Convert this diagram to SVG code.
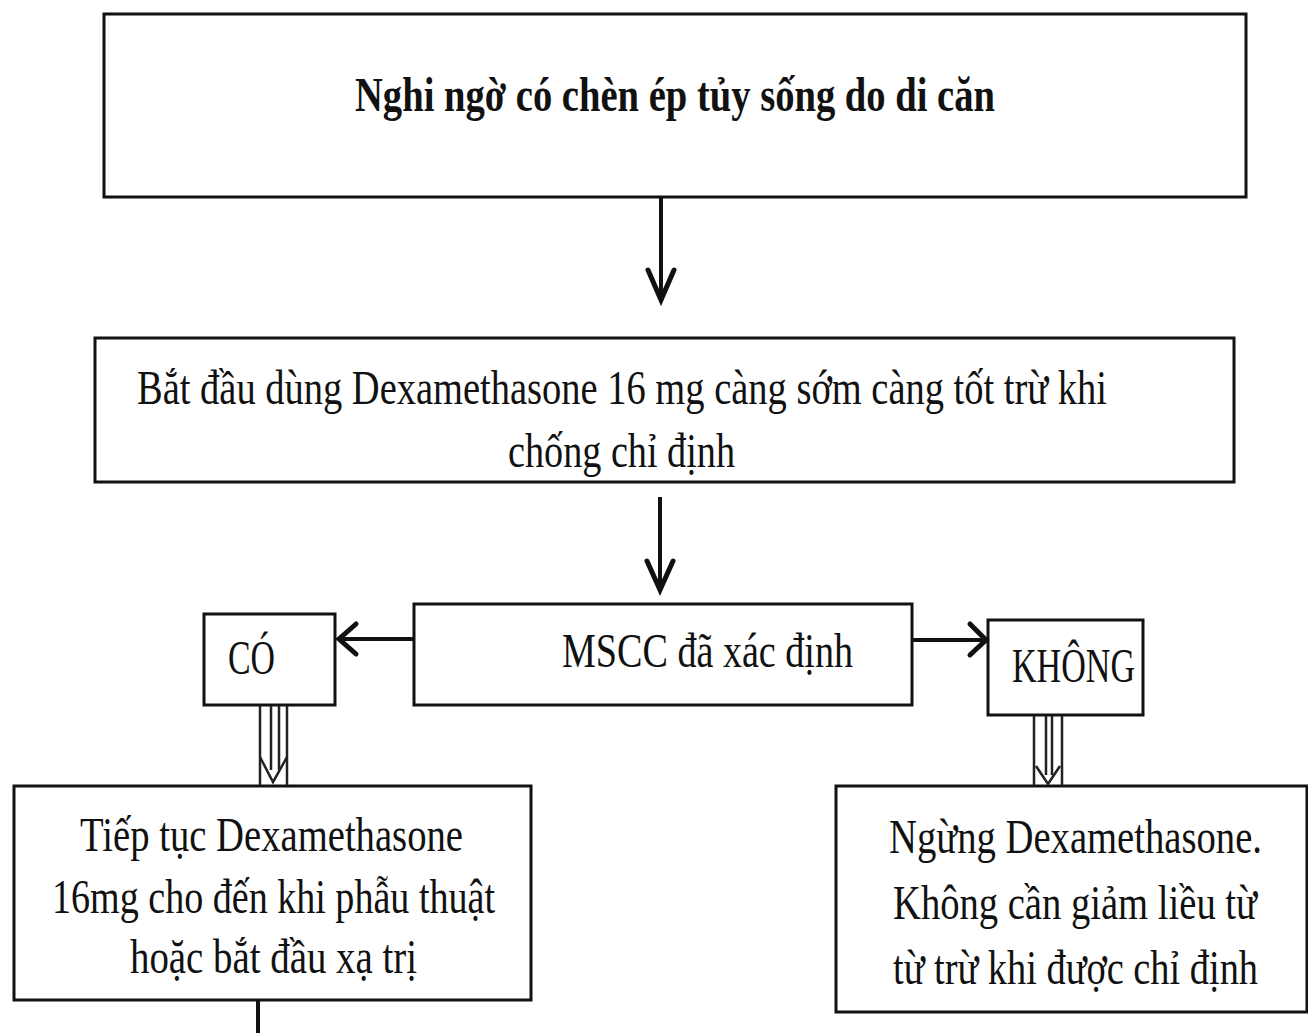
<svg xmlns="http://www.w3.org/2000/svg" width="1308" height="1033" viewBox="0 0 1308 1033">
<style>
.box{fill:#fff;stroke:#111;stroke-width:3}
.t{font-family:"Liberation Serif","Times New Roman",serif;font-size:48px;fill:#111}
.b{font-weight:bold}
.ln{stroke:#111;stroke-width:4;fill:none}
.hd{stroke:#111;stroke-width:5;fill:none;stroke-linecap:round;stroke-linejoin:miter}
.th{stroke:#222;stroke-width:2.5;fill:none}
</style>
<rect width="1308" height="1033" fill="#fff"/>
<g id="n1">
<rect class="box" x="104" y="14" width="1142" height="183"/>
<text class="t b" transform="translate(355,111) scale(0.8,1)" textLength="800" lengthAdjust="spacingAndGlyphs">Nghi ngờ có chèn ép tủy sống do di căn</text>
</g>
<g id="n2">
<rect class="box" x="95" y="338" width="1139" height="144"/>
<text class="t" transform="translate(137,404) scale(0.8,1)" textLength="1212.5" lengthAdjust="spacingAndGlyphs">Bắt đầu dùng Dexamethasone 16 mg càng sớm càng tốt trừ khi</text>
<text class="t" transform="translate(508,467) scale(0.8,1)" textLength="283.75" lengthAdjust="spacingAndGlyphs">chống chỉ định</text>
</g>
<g id="n3">
<rect class="box" x="414" y="604" width="498" height="101"/>
<text class="t" transform="translate(562,667) scale(0.8,1)" textLength="363.75" lengthAdjust="spacingAndGlyphs">MSCC đã xác định</text>
</g>
<g id="n4">
<rect class="box" x="204" y="614" width="131" height="91"/>
<text class="t" transform="translate(228,674) scale(0.8,1)" textLength="58.75" lengthAdjust="spacingAndGlyphs">CÓ</text>
</g>
<g id="n5">
<rect class="box" x="988" y="620" width="155" height="95"/>
<text class="t" transform="translate(1012,682) scale(0.8,1)" textLength="153.75" lengthAdjust="spacingAndGlyphs">KHÔNG</text>
</g>
<g id="n6">
<rect class="box" x="14" y="786" width="517" height="214"/>
<text class="t" transform="translate(80,851) scale(0.8,1)" textLength="478.75" lengthAdjust="spacingAndGlyphs">Tiếp tục Dexamethasone</text>
<text class="t" transform="translate(52,913) scale(0.8,1)" textLength="553.75" lengthAdjust="spacingAndGlyphs">16mg cho đến khi phẫu thuật</text>
<text class="t" transform="translate(130,973) scale(0.8,1)" textLength="358.75" lengthAdjust="spacingAndGlyphs">hoặc bắt đầu xạ trị</text>
</g>
<g id="n7">
<rect class="box" x="836" y="786" width="471" height="226"/>
<text class="t" transform="translate(889,853) scale(0.8,1)" textLength="466.25" lengthAdjust="spacingAndGlyphs">Ngừng Dexamethasone.</text>
<text class="t" transform="translate(893,919) scale(0.8,1)" textLength="455" lengthAdjust="spacingAndGlyphs">Không cần giảm liều từ</text>
<text class="t" transform="translate(893,984) scale(0.8,1)" textLength="456.25" lengthAdjust="spacingAndGlyphs">từ trừ khi được chỉ định</text>
</g>
<g id="connectors">
<line class="ln" x1="661" y1="197" x2="661" y2="300"/>
<polyline class="hd" points="648,270 661,300 674,270"/>
<line class="ln" x1="660" y1="497" x2="660" y2="590"/>
<polyline class="hd" points="647,561 660,590 673,561"/>
<line class="ln" x1="414" y1="639" x2="340" y2="639"/>
<polyline class="hd" points="356,624 339,639 356,654"/>
<line class="ln" x1="912" y1="640" x2="985" y2="640"/>
<polyline class="hd" points="970,624 986,640 970,655"/>
<g id="hollow-left">
<line class="th" x1="260" y1="706" x2="260" y2="785"/>
<line class="th" x1="287" y1="706" x2="287" y2="785"/>
<line class="th" x1="271" y1="706" x2="271" y2="770"/>
<line class="th" x1="279" y1="706" x2="279" y2="770"/>
<polyline class="th" points="260,757 273,782 287,757"/>
</g>
<g id="hollow-right">
<line class="th" x1="1034" y1="716" x2="1034" y2="786"/>
<line class="th" x1="1062" y1="716" x2="1062" y2="786"/>
<line class="th" x1="1046" y1="716" x2="1046" y2="775"/>
<line class="th" x1="1052" y1="716" x2="1052" y2="775"/>
<polyline class="th" points="1036,766 1048,784 1060,766"/>
</g>
<line class="ln" x1="258" y1="1000" x2="258" y2="1033"/>
</g>
</svg>
